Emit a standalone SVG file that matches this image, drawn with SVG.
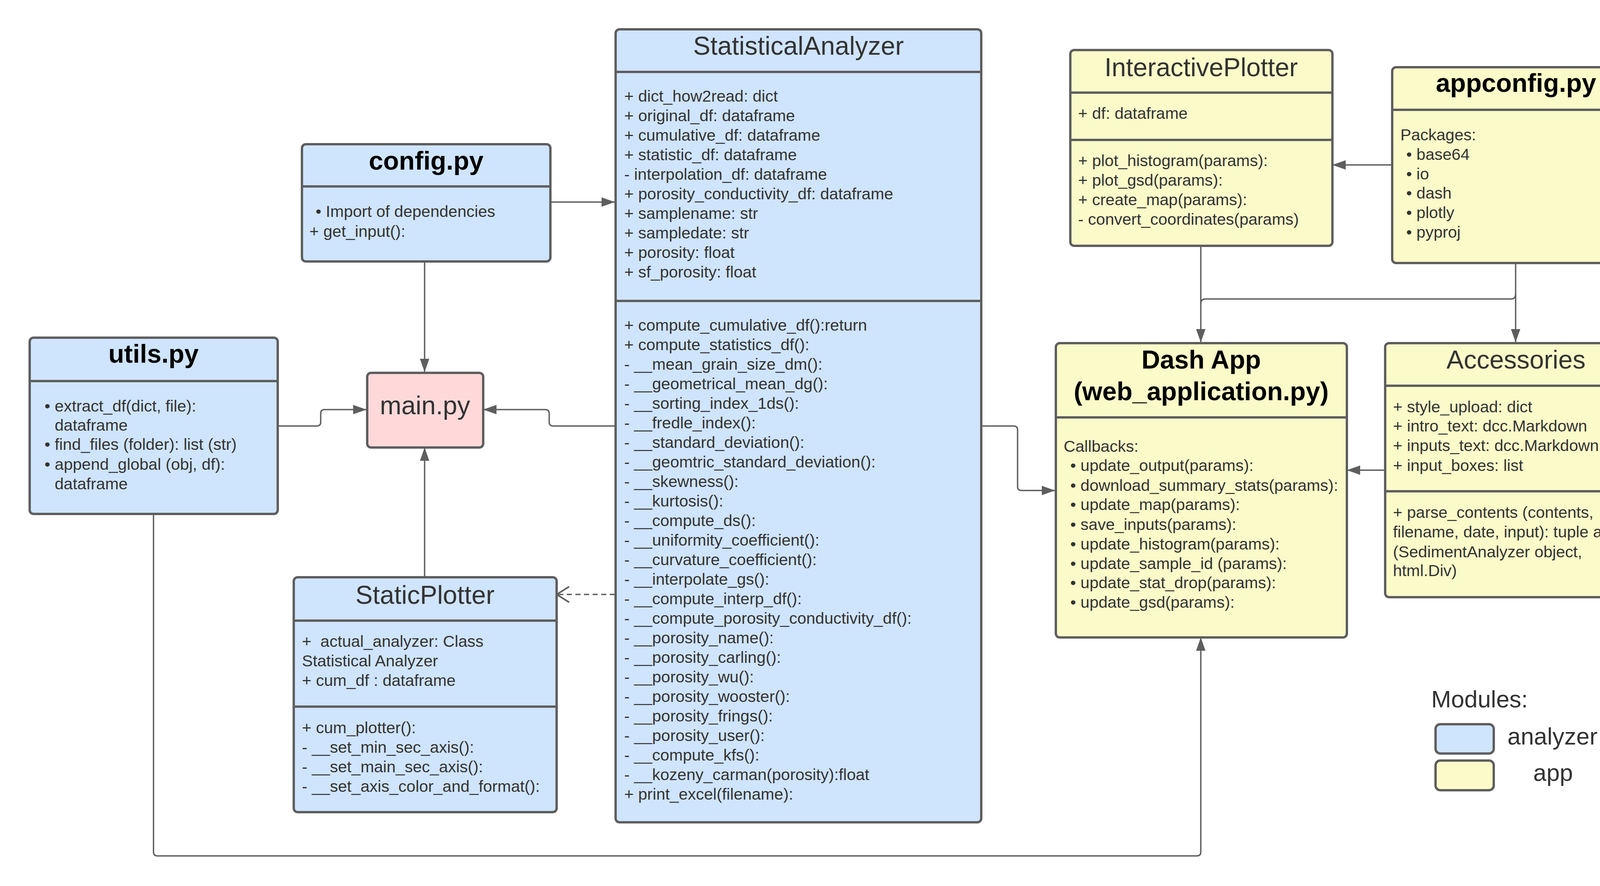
<svg xmlns="http://www.w3.org/2000/svg" width="4294" height="2267" viewBox="0 0 4294 2267">
<defs>
<style>
.box{stroke:#5e5e5e;stroke-width:6}
.blue{fill:#cfe4fd}
.yellow{fill:#fbfac9}
.pink{fill:#ffd9da}
.div{stroke:#5e5e5e;stroke-width:6;fill:none}
.t{font-family:"Liberation Sans",Arial,sans-serif;font-size:41.5px;fill:#333333}
.title{font-family:"Liberation Sans",Arial,sans-serif;font-size:66px;fill:#333333;text-anchor:middle}
.btitle{font-family:"Liberation Sans",Arial,sans-serif;font-size:66px;font-weight:bold;fill:#000000;text-anchor:middle}
.leg{font-family:"Liberation Sans",Arial,sans-serif;font-size:61px;fill:#333333}
.c{stroke:#5e5e5e;stroke-width:3.5;fill:none}
.dash{stroke-dasharray:13 9}
</style>
<marker id="ar" viewBox="0 0 12 8" refX="12" refY="4" markerWidth="12" markerHeight="8" markerUnits="userSpaceOnUse" orient="auto">
<path d="M0,0 L12,4 L0,8 Z" fill="#5e5e5e"/>
</marker>
<marker id="arr" viewBox="0 0 34 24" refX="34" refY="12" markerWidth="34" markerHeight="24" markerUnits="userSpaceOnUse" orient="auto">
<path d="M0,0 L34,12 L0,24 Z" fill="#5e5e5e"/>
</marker>
<marker id="open" viewBox="0 0 36 44" refX="34" refY="22" markerWidth="36" markerHeight="44" markerUnits="userSpaceOnUse" orient="auto">
<path d="M2,2 L34,22 L2,42" fill="none" stroke="#5e5e5e" stroke-width="4"/>
</marker>
</defs>
<rect width="4294" height="2267" fill="#ffffff"/>

<g id="connectors">
<path class="c" d="M1409,517 H1574" marker-end="url(#arr)"/>
<path class="c" d="M1087,669 V952" marker-end="url(#arr)"/>
<path class="c" d="M711,1090 H811 Q821,1090 821,1080 V1058 Q821,1048 831,1048 H938" marker-end="url(#arr)"/>
<path class="c" d="M1574,1090 H1416 Q1406,1090 1406,1080 V1058 Q1406,1048 1396,1048 H1237" marker-end="url(#arr)"/>
<path class="c" d="M1087,1477 V1145" marker-end="url(#arr)"/>
<path class="c dash" d="M1574,1521 H1425" marker-end="url(#open)"/>
<path class="c" d="M2512,1090 H2595 Q2605,1090 2605,1100 V1245 Q2605,1255 2615,1255 H2701" marker-end="url(#arr)"/>
<path class="c" d="M393,1315 V2180 Q393,2190 403,2190 H3064 Q3074,2190 3074,2180 V1631" marker-end="url(#arr)"/>
<path class="c" d="M3562,422 H3411" marker-end="url(#arr)"/>
<path class="c" d="M3074,629 V876" marker-end="url(#arr)"/>
<path class="c" d="M3880,673 V876" marker-end="url(#arr)"/>
<path class="c" d="M3880,753 Q3880,765 3868,765 H3086 Q3074,765 3074,777"/>
<path class="c" d="M3544,1203 H3448" marker-end="url(#arr)"/>
</g>

<g id="config">
<rect class="box blue" x="773" y="369" width="636" height="300" rx="10"/>
<line class="div" x1="773" y1="477" x2="1409" y2="477"/>
<text class="btitle" x="1091" y="434">config.py</text>
<text class="t" x="808" y="555">• Import of dependencies</text>
<text class="t" x="792" y="606">+ get_input():</text>
</g>

<g id="utils">
<rect class="box blue" x="76" y="864" width="635" height="451" rx="10"/>
<line class="div" x1="76" y1="975" x2="711" y2="975"/>
<text class="btitle" x="393" y="928">utils.py</text>
<text class="t" x="114" y="1053">• extract_df(dict, file):</text>
<text class="t" x="140" y="1102">dataframe</text>
<text class="t" x="114" y="1151">• find_files (folder): list (str)</text>
<text class="t" x="114" y="1202">• append_global (obj, df):</text>
<text class="t" x="140" y="1252">dataframe</text>
</g>

<g id="main">
<rect class="box pink" x="940" y="954" width="297" height="191" rx="10"/>
<text class="title" x="1088" y="1060">main.py</text>
</g>

<g id="statisticalanalyzer">
<rect class="box blue" x="1576" y="75" width="936" height="2029" rx="10"/>
<line class="div" x1="1576" y1="184" x2="2512" y2="184"/>
<line class="div" x1="1576" y1="770" x2="2512" y2="770"/>
<text class="title" x="2044" y="140">StatisticalAnalyzer</text>
<text class="t" x="1598" y="260">+ dict_how2read: dict</text>
<text class="t" x="1598" y="310">+ original_df: dataframe</text>
<text class="t" x="1598" y="360">+ cumulative_df: dataframe</text>
<text class="t" x="1598" y="410">+ statistic_df: dataframe</text>
<text class="t" x="1598" y="460">- interpolation_df: dataframe</text>
<text class="t" x="1598" y="510">+ porosity_conductivity_df: dataframe</text>
<text class="t" x="1598" y="560">+ samplename: str</text>
<text class="t" x="1598" y="610">+ sampledate: str</text>
<text class="t" x="1598" y="660">+ porosity: float</text>
<text class="t" x="1598" y="710">+ sf_porosity: float</text>
<text class="t" x="1598" y="846">+ compute_cumulative_df():return</text>
<text class="t" x="1598" y="896">+ compute_statistics_df():</text>
<text class="t" x="1598" y="946">- __mean_grain_size_dm():</text>
<text class="t" x="1598" y="996">- __geometrical_mean_dg():</text>
<text class="t" x="1598" y="1046">- __sorting_index_1ds():</text>
<text class="t" x="1598" y="1096">- __fredle_index():</text>
<text class="t" x="1598" y="1146">- __standard_deviation():</text>
<text class="t" x="1598" y="1196">- __geomtric_standard_deviation():</text>
<text class="t" x="1598" y="1246">- __skewness():</text>
<text class="t" x="1598" y="1296">- __kurtosis():</text>
<text class="t" x="1598" y="1346">- __compute_ds():</text>
<text class="t" x="1598" y="1396">- __uniformity_coefficient():</text>
<text class="t" x="1598" y="1446">- __curvature_coefficient():</text>
<text class="t" x="1598" y="1496">- __interpolate_gs():</text>
<text class="t" x="1598" y="1546">- __compute_interp_df():</text>
<text class="t" x="1598" y="1596">- __compute_porosity_conductivity_df():</text>
<text class="t" x="1598" y="1646">- __porosity_name():</text>
<text class="t" x="1598" y="1696">- __porosity_carling():</text>
<text class="t" x="1598" y="1746">- __porosity_wu():</text>
<text class="t" x="1598" y="1796">- __porosity_wooster():</text>
<text class="t" x="1598" y="1846">- __porosity_frings():</text>
<text class="t" x="1598" y="1896">- __porosity_user():</text>
<text class="t" x="1598" y="1946">- __compute_kfs():</text>
<text class="t" x="1598" y="1996">- __kozeny_carman(porosity):float</text>
<text class="t" x="1598" y="2046">+ print_excel(filename):</text>
</g>

<g id="staticplotter">
<rect class="box blue" x="752" y="1477" width="673" height="601" rx="10"/>
<line class="div" x1="752" y1="1588" x2="1425" y2="1588"/>
<line class="div" x1="752" y1="1808" x2="1425" y2="1808"/>
<text class="title" x="1088" y="1545">StaticPlotter</text>
<text class="t" x="773" y="1655" xml:space="preserve">+  actual_analyzer: Class</text>
<text class="t" x="773" y="1705">Statistical Analyzer</text>
<text class="t" x="773" y="1755">+ cum_df : dataframe</text>
<text class="t" x="773" y="1876">+ cum_plotter():</text>
<text class="t" x="773" y="1926">- __set_min_sec_axis():</text>
<text class="t" x="773" y="1976">- __set_main_sec_axis():</text>
<text class="t" x="773" y="2026">- __set_axis_color_and_format():</text>
</g>

<g id="interactiveplotter">
<rect class="box yellow" x="2740" y="128" width="671" height="501" rx="10"/>
<line class="div" x1="2740" y1="237" x2="3411" y2="237"/>
<line class="div" x1="2740" y1="358" x2="3411" y2="358"/>
<text class="title" x="3075" y="195">InteractivePlotter</text>
<text class="t" x="2760" y="304">+ df: dataframe</text>
<text class="t" x="2760" y="425">+ plot_histogram(params):</text>
<text class="t" x="2760" y="475">+ plot_gsd(params):</text>
<text class="t" x="2760" y="525">+ create_map(params):</text>
<text class="t" x="2760" y="575">- convert_coordinates(params)</text>
</g>

<g id="appconfig">
<rect class="box yellow" x="3564" y="172" width="634" height="501" rx="10"/>
<line class="div" x1="3564" y1="281" x2="4198" y2="281"/>
<text class="btitle" x="3881" y="235">appconfig.py</text>
<text class="t" x="3585" y="359">Packages:</text>
<text class="t" x="3600" y="409">• base64</text>
<text class="t" x="3600" y="459">• io</text>
<text class="t" x="3600" y="508">• dash</text>
<text class="t" x="3600" y="558">• plotly</text>
<text class="t" x="3600" y="608">• pyproj</text>
</g>

<g id="dashapp">
<rect class="box yellow" x="2703" y="878" width="745" height="753" rx="10"/>
<line class="div" x1="2703" y1="1068" x2="3448" y2="1068"/>
<text class="btitle" x="3075" y="943">Dash App</text>
<text class="btitle" x="3075" y="1024">(web_application.py)</text>
<text class="t" x="2723" y="1156">Callbacks:</text>
<text class="t" x="2740" y="1205">• update_output(params):</text>
<text class="t" x="2740" y="1256">• download_summary_stats(params):</text>
<text class="t" x="2740" y="1305">• update_map(params):</text>
<text class="t" x="2740" y="1356">• save_inputs(params):</text>
<text class="t" x="2740" y="1406">• update_histogram(params):</text>
<text class="t" x="2740" y="1456">• update_sample_id (params):</text>
<text class="t" x="2740" y="1505">• update_stat_drop(params):</text>
<text class="t" x="2740" y="1555">• update_gsd(params):</text>
</g>

<g id="accessories">
<rect class="box yellow" x="3546" y="878" width="670" height="650" rx="10"/>
<line class="div" x1="3546" y1="987" x2="4216" y2="987"/>
<line class="div" x1="3546" y1="1257" x2="4216" y2="1257"/>
<text class="title" x="3881" y="943">Accessories</text>
<text class="t" x="3566" y="1055">+ style_upload: dict</text>
<text class="t" x="3566" y="1104">+ intro_text: dcc.Markdown</text>
<text class="t" x="3566" y="1154">+ inputs_text: dcc.Markdown</text>
<text class="t" x="3566" y="1205">+ input_boxes: list</text>
<text class="t" x="3566" y="1325">+ parse_contents (contents,</text>
<text class="t" x="3566" y="1375">filename, date, input): tuple as</text>
<text class="t" x="3566" y="1426">(SedimentAnalyzer object,</text>
<text class="t" x="3566" y="1474">html.Div)</text>
</g>

<g id="legend">
<text class="leg" x="3664" y="1810">Modules:</text>
<rect class="box blue" x="3675" y="1853" width="149" height="75" rx="12"/>
<rect class="box yellow" x="3675" y="1946" width="149" height="76" rx="12"/>
<text class="leg" x="3859" y="1905">analyzer</text>
<text class="leg" x="3925" y="1998">app</text>
</g>
</svg>
